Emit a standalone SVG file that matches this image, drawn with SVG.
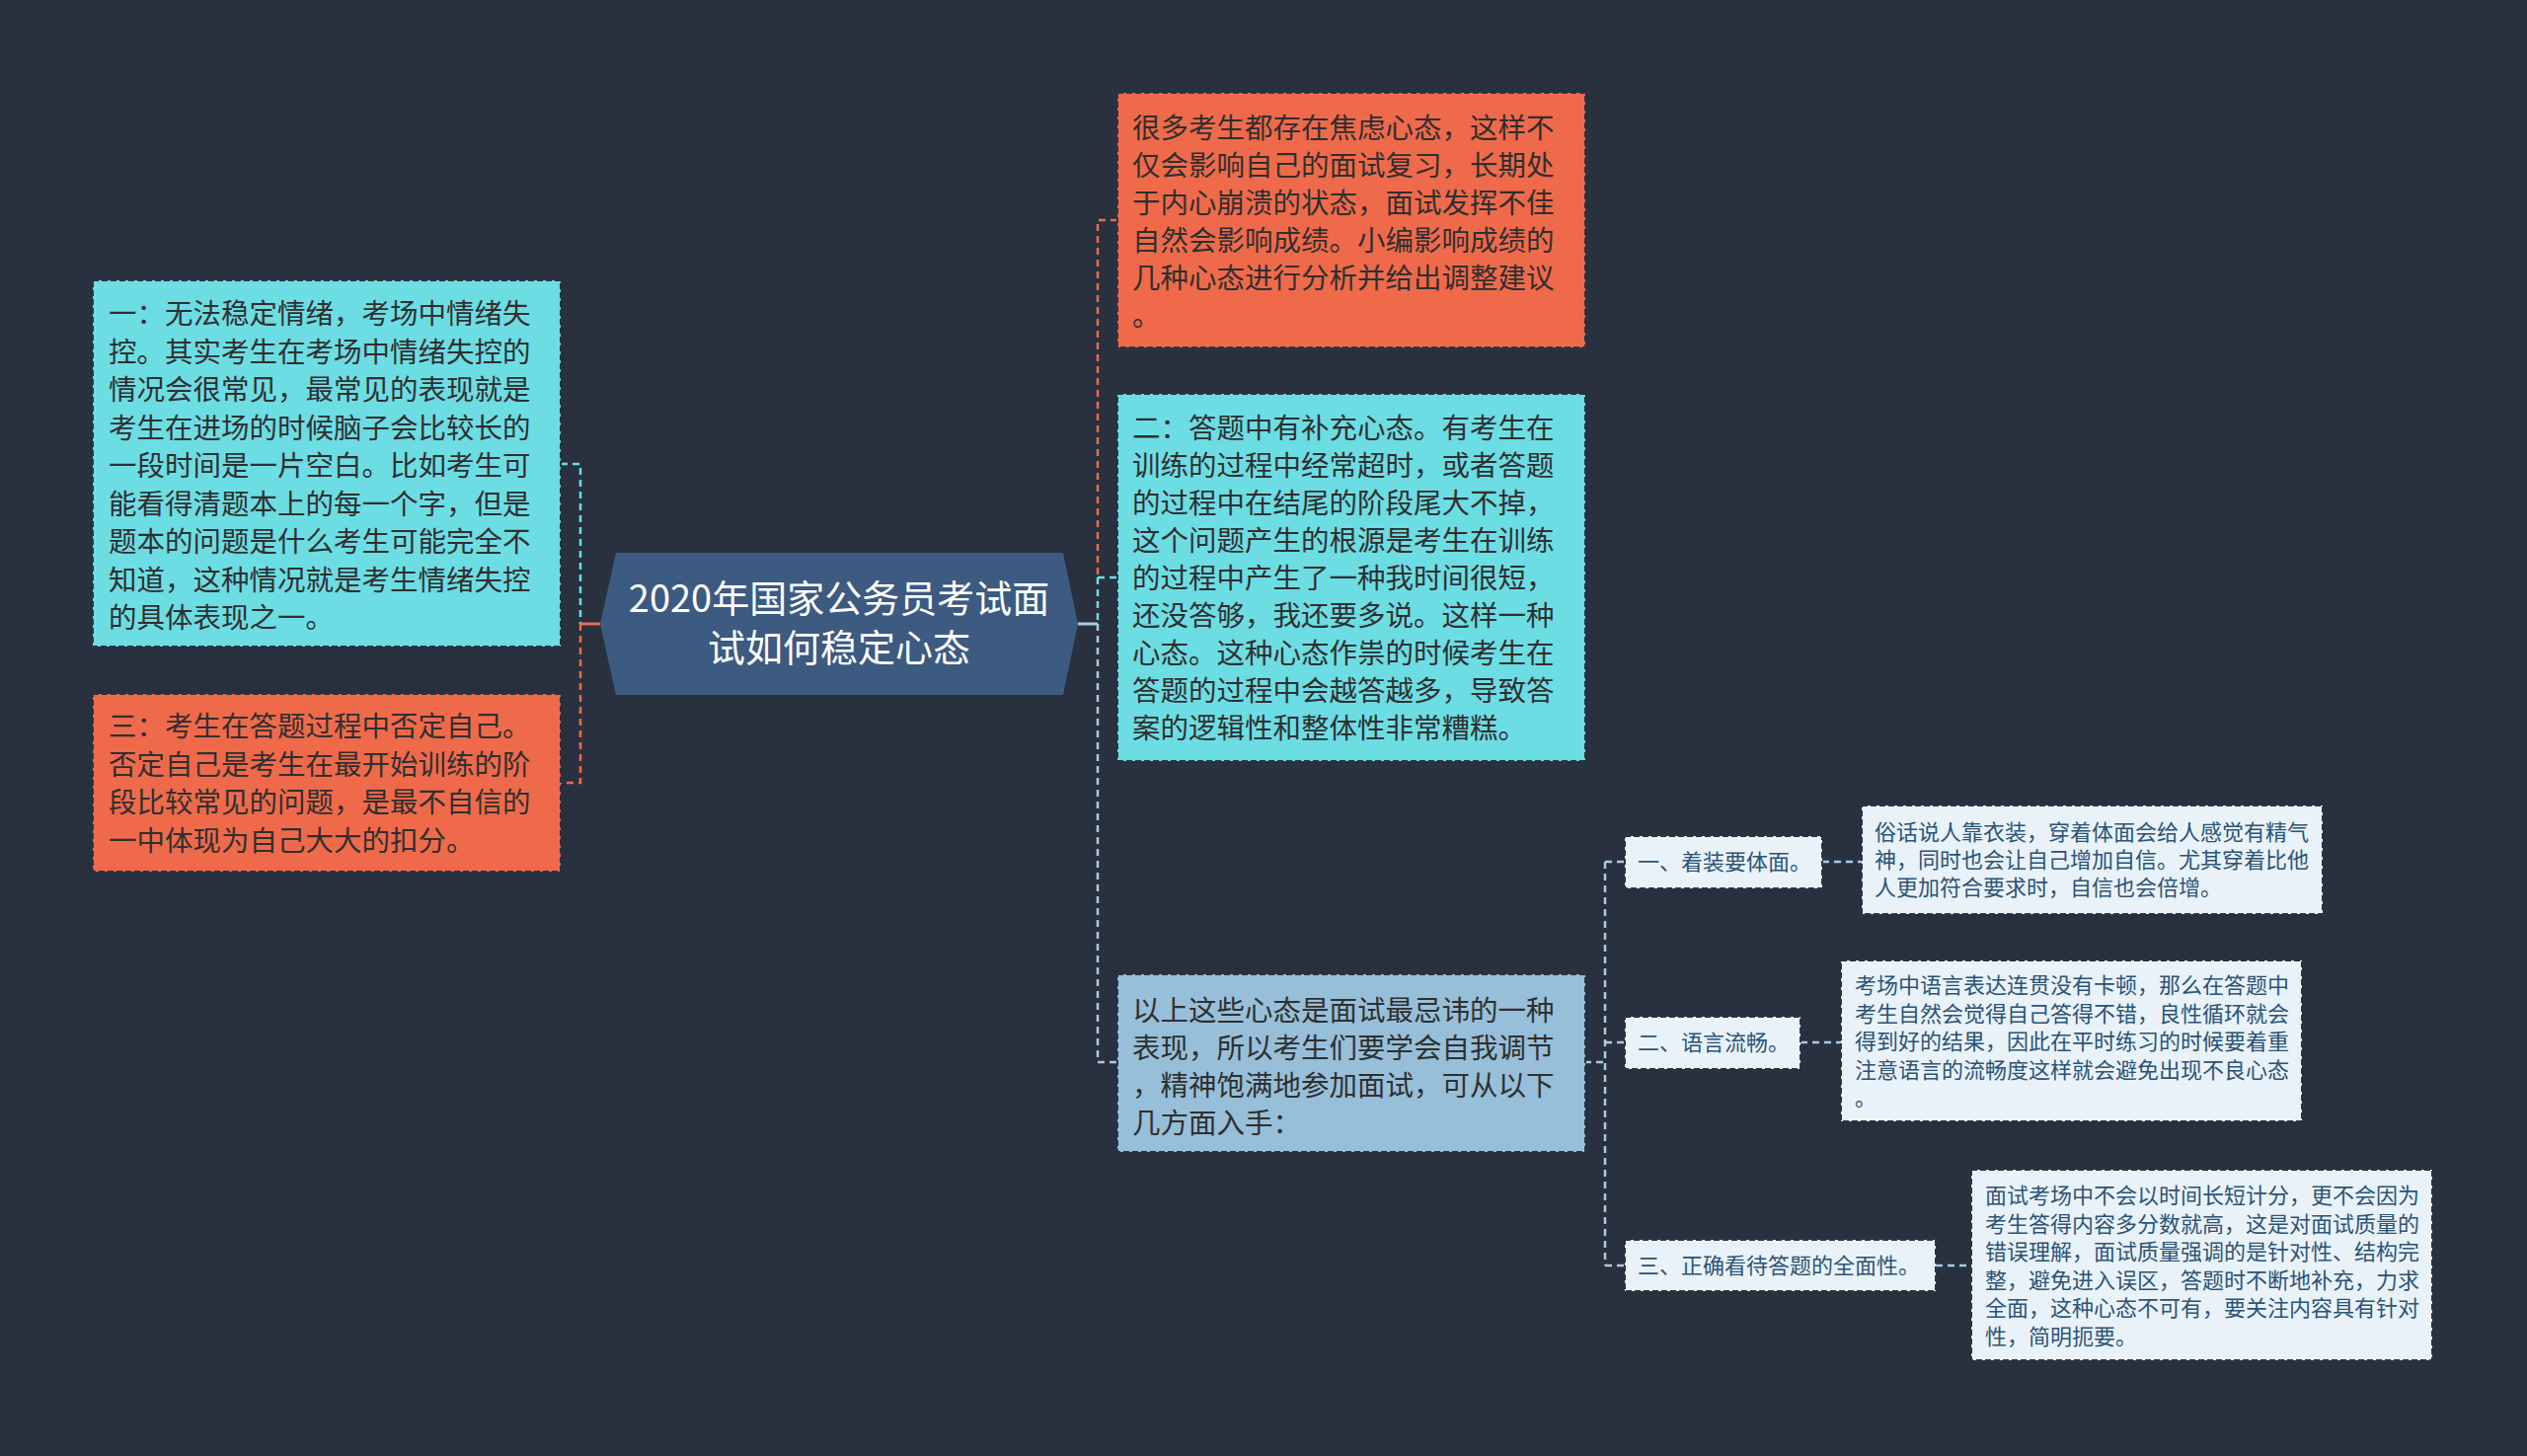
<svg xmlns="http://www.w3.org/2000/svg" width="2560" height="1475" viewBox="0 0 2560 1475">
<style>
text{font-family:"Noto Sans CJK SC","Noto Sans",sans-serif}
.big{font-size:28.5px;fill:#2f2f2f}
.sm{font-size:22px;fill:#2c5376}
.box{stroke:#2a3343;stroke-width:2;stroke-dasharray:6 3}
.cy{fill:#6ddde4}
.or{fill:#ef6a4b}
.bl{fill:#97bfd9}
.lt{fill:#e9f2f8}
.c{fill:none;stroke-width:2.5;stroke-dasharray:7 5}
</style>
<rect width="2560" height="1475" fill="#29313f"/>
<g id="connectors">
<path class="c" stroke="#6ddde4" d="M568,470H588V632"/>
<path class="c" stroke="#ef6a4b" d="M588,632V793H568"/>
<path fill="none" stroke="#ef6a4b" stroke-width="3" d="M588,632H608"/>
<path class="c" stroke="#ef6a4b" d="M1132,223H1112V585"/>
<path class="c" stroke="#6ddde4" d="M1112,585H1132M1112,585V632"/>
<path fill="none" stroke="#a9cbe3" stroke-width="3" d="M1092,632H1112"/>
<path class="c" stroke="#a9cbe3" d="M1112,632V1076H1132"/>
<path class="c" stroke="#a9cbe3" d="M1605,1076H1626M1626,873V1282M1626,873H1646M1626,1056H1646M1626,1282H1646"/>
<path class="c" stroke="#a9cbe3" d="M1846,873H1886M1824,1056H1865M1961,1282H1997"/>
</g>
<g id="center">
<polygon points="624,560 1077,560 1092,632 1077,704 624,704 608,632" fill="#3d5a80"/>
<text x="850" y="620" font-size="38" fill="#ffffff" text-anchor="middle">2020年国家公务员考试面</text>
<text x="850" y="670" font-size="38" fill="#ffffff" text-anchor="middle">试如何稳定心态</text>
</g>
<g id="node-left1">
<rect class="box cy" x="94" y="284" width="474" height="371"/>
<text class="big" x="110" y="328">一：无法稳定情绪，考场中情绪失</text>
<text class="big" x="110" y="366.5">控。其实考生在考场中情绪失控的</text>
<text class="big" x="110" y="405">情况会很常见，最常见的表现就是</text>
<text class="big" x="110" y="443.5">考生在进场的时候脑子会比较长的</text>
<text class="big" x="110" y="482">一段时间是一片空白。比如考生可</text>
<text class="big" x="110" y="520.5">能看得清题本上的每一个字，但是</text>
<text class="big" x="110" y="559">题本的问题是什么考生可能完全不</text>
<text class="big" x="110" y="597.5">知道，这种情况就是考生情绪失控</text>
<text class="big" x="110" y="636">的具体表现之一。</text>
</g>
<g id="node-left3">
<rect class="box or" x="94" y="703" width="474" height="180"/>
<text class="big" x="110" y="746">三：考生在答题过程中否定自己。</text>
<text class="big" x="110" y="784.5">否定自己是考生在最开始训练的阶</text>
<text class="big" x="110" y="823">段比较常见的问题，是最不自信的</text>
<text class="big" x="110" y="861.5">一中体现为自己大大的扣分。</text>
</g>
<g id="node-intro">
<rect class="box or" x="1132" y="94" width="474" height="258"/>
<text class="big" x="1147" y="140">很多考生都存在焦虑心态，这样不</text>
<text class="big" x="1147" y="178">仅会影响自己的面试复习，长期处</text>
<text class="big" x="1147" y="216">于内心崩溃的状态，面试发挥不佳</text>
<text class="big" x="1147" y="254">自然会影响成绩。小编影响成绩的</text>
<text class="big" x="1147" y="292">几种心态进行分析并给出调整建议</text>
<text class="big" x="1147" y="330">。</text>
</g>
<g id="node-right2">
<rect class="box cy" x="1132" y="399" width="474" height="372"/>
<text class="big" x="1147" y="444">二：答题中有补充心态。有考生在</text>
<text class="big" x="1147" y="482">训练的过程中经常超时，或者答题</text>
<text class="big" x="1147" y="520">的过程中在结尾的阶段尾大不掉，</text>
<text class="big" x="1147" y="558">这个问题产生的根源是考生在训练</text>
<text class="big" x="1147" y="596">的过程中产生了一种我时间很短，</text>
<text class="big" x="1147" y="634">还没答够，我还要多说。这样一种</text>
<text class="big" x="1147" y="672">心态。这种心态作祟的时候考生在</text>
<text class="big" x="1147" y="710">答题的过程中会越答越多，导致答</text>
<text class="big" x="1147" y="748">案的逻辑性和整体性非常糟糕。</text>
</g>
<g id="node-summary">
<rect class="box bl" x="1132" y="987" width="474" height="180"/>
<text class="big" x="1147" y="1034">以上这些心态是面试最忌讳的一种</text>
<text class="big" x="1147" y="1072">表现，所以考生们要学会自我调节</text>
<text class="big" x="1147" y="1110">，精神饱满地参加面试，可从以下</text>
<text class="big" x="1147" y="1148">几方面入手：</text>
</g>
<g id="item1">
<rect class="box lt" x="1646" y="847" width="200" height="53"/>
<text class="sm" x="1659" y="881">一、着装要体面。</text>
</g>
<g id="detail1">
<rect class="box lt" x="1886" y="816" width="467" height="110"/>
<text class="sm" x="1899" y="851">俗话说人靠衣装，穿着体面会给人感觉有精气</text>
<text class="sm" x="1899" y="879">神，同时也会让自己增加自信。尤其穿着比他</text>
<text class="sm" x="1899" y="907">人更加符合要求时，自信也会倍增。</text>
</g>
<g id="item2">
<rect class="box lt" x="1646" y="1030" width="178" height="53"/>
<text class="sm" x="1659" y="1064">二、语言流畅。</text>
</g>
<g id="detail2">
<rect class="box lt" x="1865" y="973" width="467" height="163"/>
<text class="sm" x="1879" y="1006">考场中语言表达连贯没有卡顿，那么在答题中</text>
<text class="sm" x="1879" y="1034.5">考生自然会觉得自己答得不错，良性循环就会</text>
<text class="sm" x="1879" y="1063">得到好的结果，因此在平时练习的时候要着重</text>
<text class="sm" x="1879" y="1091.5">注意语言的流畅度这样就会避免出现不良心态</text>
<text class="sm" x="1879" y="1120">。</text>
</g>
<g id="item3">
<rect class="box lt" x="1646" y="1256" width="315" height="52"/>
<text class="sm" x="1659" y="1290">三、正确看待答题的全面性。</text>
</g>
<g id="detail3">
<rect class="box lt" x="1997" y="1185" width="467" height="193"/>
<text class="sm" x="2011" y="1219">面试考场中不会以时间长短计分，更不会因为</text>
<text class="sm" x="2011" y="1247.5">考生答得内容多分数就高，这是对面试质量的</text>
<text class="sm" x="2011" y="1276">错误理解，面试质量强调的是针对性、结构完</text>
<text class="sm" x="2011" y="1304.5">整，避免进入误区，答题时不断地补充，力求</text>
<text class="sm" x="2011" y="1333">全面，这种心态不可有，要关注内容具有针对</text>
<text class="sm" x="2011" y="1361.5">性，简明扼要。</text>
</g>
</svg>
